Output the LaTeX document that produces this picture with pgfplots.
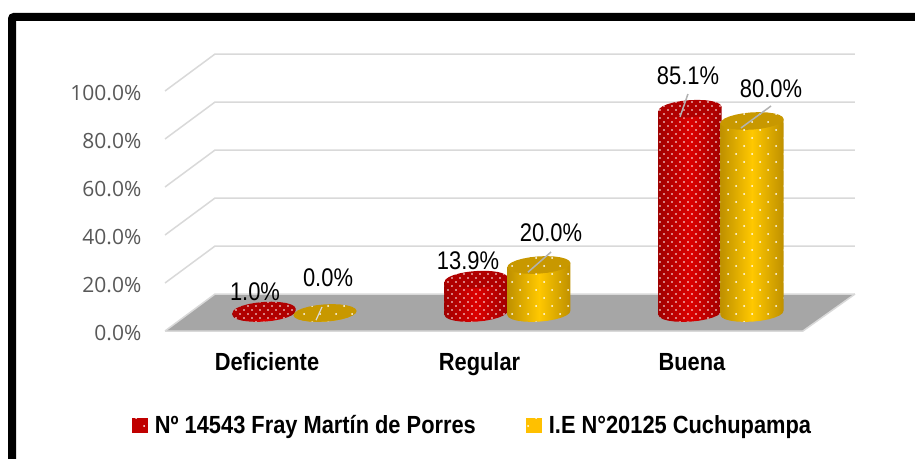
\documentclass[border=0pt]{standalone}
\usepackage{fontspec}
\usepackage{pgfplots}
\pgfplotsset{compat=1.18}
\usetikzlibrary{patterns}
\setmainfont{Liberation Sans}
\newfontfamily\tickfont{Open Sans}
\newfontfamily\narrowfont[FakeStretch=0.86]{Liberation Sans}
\newfontfamily\narrowbold[FakeStretch=0.88,BoldFont={Liberation Sans Bold}]{Liberation Sans Bold}
\definecolor{redC}{HTML}{DC0000}
\definecolor{redE}{HTML}{A00000}
\definecolor{redT}{HTML}{B00000}
\definecolor{redL}{HTML}{C00000}
\definecolor{yelC}{HTML}{FFC800}
\definecolor{yelE}{HTML}{BF9000}
\definecolor{yelT}{HTML}{C89800}
\definecolor{yelL}{HTML}{FFC000}
\definecolor{gridc}{HTML}{D9D9D9}
\definecolor{tickc}{HTML}{595959}
\pgfdeclarepatternformonly{reddots}{\pgfqpoint{-1pt}{-1pt}}{\pgfqpoint{7pt}{7pt}}{\pgfqpoint{8pt}{8pt}}{%
  \pgfpathcircle{\pgfqpoint{0pt}{0pt}}{0.9pt}\pgfpathcircle{\pgfqpoint{4pt}{4pt}}{0.9pt}\pgfusepath{fill}}
\pgfdeclarepatternformonly{yeldots}{\pgfqpoint{-1pt}{-1pt}}{\pgfqpoint{15pt}{15pt}}{\pgfqpoint{16pt}{16pt}}{%
  \pgfpathcircle{\pgfqpoint{0pt}{0pt}}{1pt}\pgfpathcircle{\pgfqpoint{8pt}{8pt}}{1pt}\pgfusepath{fill}}
% one cylinder: x, value, prefix
\newcommand{\cyl}[3]{%
  \addplot[forget plot,draw=none,left color=#3E,right color=#3E,middle color=#3C] coordinates {
    ({#1-.1482},{#2-.917})
    ({#1-.1482},-.917)({#1-.1424},-1.8125)({#1-.1270},-2.583)({#1-.1028},-3.183)({#1-.0717},-3.5625)
    ({#1-.0356},-3.7)({#1+.0028},-3.583)({#1+.0411},-3.225)({#1+.0766},-2.646)({#1+.1068},-1.883)
    ({#1+.1298},-1.0)({#1+.1439},-.042)({#1+.1482},.917)
    ({#1+.1482},{#2+.917})} -- cycle;
  \addplot[forget plot,draw=none,pattern=#3dots,pattern color=white] coordinates {
    ({#1-.1482},{#2-.917})
    ({#1-.1482},-.917)({#1-.1424},-1.8125)({#1-.1270},-2.583)({#1-.1028},-3.183)({#1-.0717},-3.5625)
    ({#1-.0356},-3.7)({#1+.0028},-3.583)({#1+.0411},-3.225)({#1+.0766},-2.646)({#1+.1068},-1.883)
    ({#1+.1298},-1.0)({#1+.1439},-.042)({#1+.1482},.917)
    ({#1+.1482},{#2+.917})} -- cycle;
  \addplot[forget plot,draw=none,fill=#3T] coordinates {
    ({#1-.1482},{#2-.917})({#1-.1424},{#2-1.8125})({#1-.1270},{#2-2.583})({#1-.1028},{#2-3.183})({#1-.0717},{#2-3.5625})
    ({#1-.0356},{#2-3.7})({#1+.0028},{#2-3.583})({#1+.0411},{#2-3.225})({#1+.0766},{#2-2.646})({#1+.1068},{#2-1.883})
    ({#1+.1298},{#2-1.0})({#1+.1439},{#2-.042})({#1+.1482},{#2+.917})
    ({#1+.1424},{#2+1.8125})({#1+.1270},{#2+2.583})({#1+.1028},{#2+3.183})({#1+.0717},{#2+3.5625})
    ({#1+.0356},{#2+3.7})({#1-.0028},{#2+3.583})({#1-.0411},{#2+3.225})({#1-.0766},{#2+2.646})({#1-.1068},{#2+1.883})
    ({#1-.1298},{#2+1.0})({#1-.1439},{#2+.042})} -- cycle;
  \addplot[forget plot,draw=none,pattern=#3dots,pattern color=white] coordinates {
    ({#1-.1482},{#2-.917})({#1-.1424},{#2-1.8125})({#1-.1270},{#2-2.583})({#1-.1028},{#2-3.183})({#1-.0717},{#2-3.5625})
    ({#1-.0356},{#2-3.7})({#1+.0028},{#2-3.583})({#1+.0411},{#2-3.225})({#1+.0766},{#2-2.646})({#1+.1068},{#2-1.883})
    ({#1+.1298},{#2-1.0})({#1+.1439},{#2-.042})({#1+.1482},{#2+.917})
    ({#1+.1424},{#2+1.8125})({#1+.1270},{#2+2.583})({#1+.1028},{#2+3.183})({#1+.0717},{#2+3.5625})
    ({#1+.0356},{#2+3.7})({#1-.0028},{#2+3.583})({#1-.0411},{#2+3.225})({#1-.0766},{#2+2.646})({#1-.1068},{#2+1.883})
    ({#1-.1298},{#2+1.0})({#1-.1439},{#2+.042})} -- cycle;
}
\begin{document}
\begin{tikzpicture}[x=1pt,y=1pt]
\path[use as bounding box] (0,0) rectangle (915,458);
\fill[white] (0,0) rectangle (915,458);
\draw[black,line width=8pt,rounded corners=2pt] (12,-10) -- (12,441) -- (925,441);
\begin{axis}[
  at={(148pt,113pt)},anchor=south west,scale only axis,width=712pt,height=305pt,
  xmin=-0.56,xmax=2.7906,ymin=-13.333,ymax=113.75,
  clip=false,
  axis line style={draw=none},
  tick style={draw=none},
  ytick={-7.5,12.5,32.5,52.5,72.5,92.5},
  yticklabels={0.0\%,20.0\%,40.0\%,60.0\%,80.0\%,100.0\%},
  yticklabel style={font=\tickfont\fontsize{21}{21}\selectfont,text=tickc,anchor=east,inner sep=0pt,xshift=-6.5pt,yshift=-2pt},
  xtick={0,1,2},
  xticklabels={Deficiente,Regular,Buena},
  xticklabel style={font=\narrowbold\fontsize{24.8}{24.8}\selectfont,anchor=base,inner sep=0pt,yshift=-25pt},
  legend columns=2,
  legend style={at={(0.4558,-0.2623)},anchor=center,draw=none,fill=none,
    font=\narrowbold\fontsize{24.8}{24.8}\selectfont,/tikz/every even column/.append style={column sep=48pt},
    inner sep=0pt},
]
\addplot[forget plot,fill=black!35,draw=none] coordinates {(-0.48,-7.5)(2.522,-7.5)(2.767,7.9)(-0.2447,7.9)} -- cycle;
\pgfplotsinvokeforeach{0,20,40,60,80,100}{
  \addplot[forget plot,gridc,line width=1.5pt] coordinates {(-0.48,{-7.5+#1})(-0.2447,{7.9+#1})(2.767,{7.9+#1})};
}
\addplot[forget plot,gridc,line width=1.5pt] coordinates {(-0.48,-7.5)(2.522,-7.5)(2.767,7.9)};
\cyl{-0.014}{1.0}{red}
\cyl{0.273}{0.0}{yel}
\cyl{0.984}{13.9}{red}
\cyl{1.2794}{20.0}{yel}
\cyl{1.9906}{85.1}{red}
\cyl{2.2824}{80.0}{yel}
\addplot[forget plot,black!30,line width=1.5pt] coordinates {(1.981,91.25)(1.9435,81.7)};
\addplot[forget plot,black!30,line width=1.5pt] coordinates {(2.3718,86.25)(2.2306,77.1)};
\addplot[forget plot,black!30,line width=1.5pt] coordinates {(1.3365,25.4)(1.228,17)};
\addplot[forget plot,gridc,line width=1.2pt] coordinates {(0.2588,2.5)(0.2306,-3)};
\node[font=\narrowfont\fontsize{25.5}{25.5}\selectfont] at (axis cs:1.981,99) {85.1\%};
\node[font=\narrowfont\fontsize{25.5}{25.5}\selectfont] at (axis cs:2.3718,93.5) {80.0\%};
\node[font=\narrowfont\fontsize{25.5}{25.5}\selectfont] at (axis cs:0.9459,21.7) {13.9\%};
\node[font=\narrowfont\fontsize{25.5}{25.5}\selectfont] at (axis cs:1.3365,33.3) {20.0\%};
\node[font=\narrowfont\fontsize{25.5}{25.5}\selectfont] at (axis cs:-0.0565,8.7) {1.0\%};
\node[font=\narrowfont\fontsize{25.5}{25.5}\selectfont] at (axis cs:0.2871,14.5) {0.0\%};
\addlegendimage{legend image code/.code={
  \fill[redL,draw=none] (-8pt,-7.5pt) rectangle (8pt,7.5pt);
  \fill[pattern=yeldots,pattern color=white,draw=none] (-8pt,-7.5pt) rectangle (8pt,7.5pt);
  \path[draw=none] (8pt,0pt) -- (13pt,0pt);}}
\addlegendentry{Nº 14543 Fray Martín de Porres}
\addlegendimage{legend image code/.code={
  \fill[yelL,draw=none] (-8pt,-7.5pt) rectangle (8pt,7.5pt);
  \fill[pattern=yeldots,pattern color=white,draw=none] (-8pt,-7.5pt) rectangle (8pt,7.5pt);
  \path[draw=none] (8pt,0pt) -- (13pt,0pt);}}
\addlegendentry{I.E N°20125 Cuchupampa}
\end{axis}
\end{tikzpicture}
\end{document}
